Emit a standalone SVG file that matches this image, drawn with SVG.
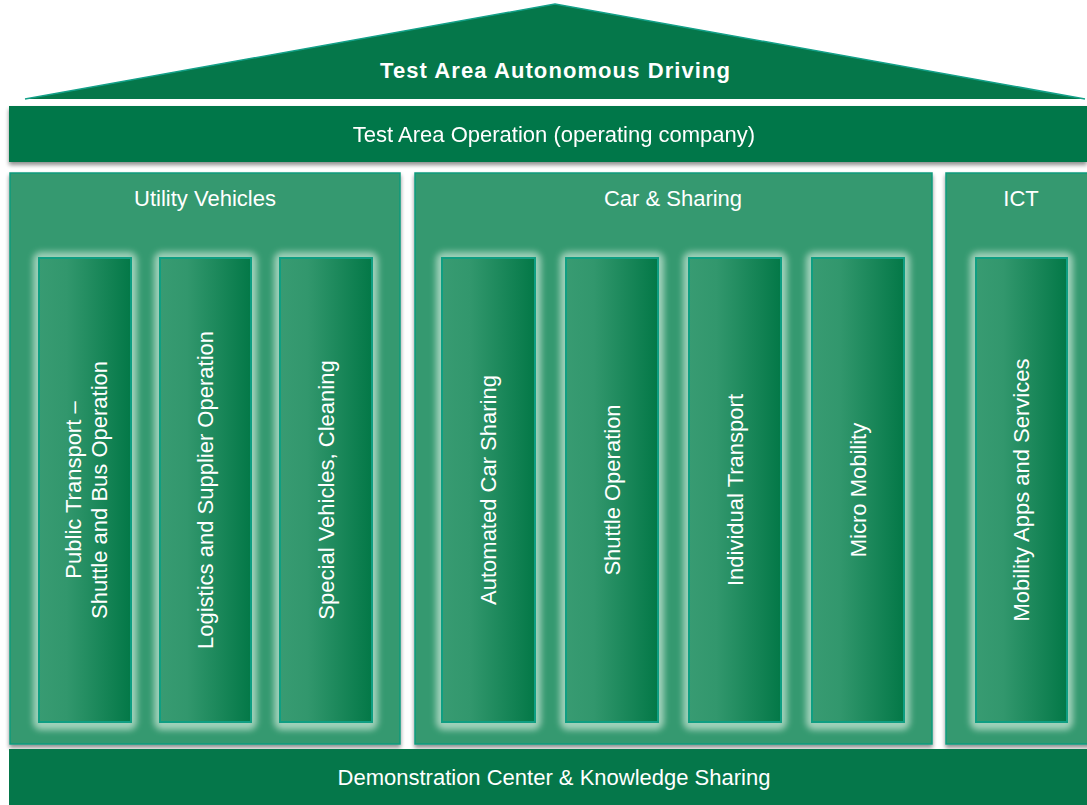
<svg xmlns="http://www.w3.org/2000/svg" width="1087" height="805" viewBox="0 0 1087 805">
<defs>
<linearGradient id="colg" x1="0" y1="0" x2="1" y2="0">
<stop offset="0" stop-color="#389b72"/>
<stop offset="0.3" stop-color="#32976d"/>
<stop offset="1" stop-color="#037847"/>
</linearGradient>
<filter id="sh" x="-5%" y="-20%" width="110%" height="140%">
<feGaussianBlur in="SourceAlpha" stdDeviation="2"/>
<feOffset dy="3"/>
<feComponentTransfer><feFuncA type="linear" slope="0.45"/></feComponentTransfer>
<feMerge><feMergeNode/><feMergeNode in="SourceGraphic"/></feMerge>
</filter>
<filter id="glow" x="-30%" y="-10%" width="160%" height="120%">
<feGaussianBlur stdDeviation="3"/>
</filter>
<style>
.bar{fill:#05774a}
.pillar{fill:#35996f;stroke:#0d9a7e;stroke-width:1.5}
.col{fill:url(#colg);stroke:#0f9e82;stroke-width:2}
.halo{fill:#b4dcc8;opacity:0.85}
.t{font-family:"Liberation Sans",Arial,sans-serif;fill:#ffffff;font-size:22px;text-anchor:middle}
.b{font-weight:bold}
</style>
</defs>

<g id="roof">
<polygon points="25,99 555,4 1085,99" fill="#05774a"/>
<polyline points="25,99 555,4 1085,99" fill="none" stroke="#13a088" stroke-width="1.5"/>
<text class="t b" x="555" y="78" font-size="26" textLength="350" lengthAdjust="spacing">Test Area Autonomous Driving</text>
</g>

<g id="operation" filter="url(#sh)">
<rect class="bar" x="9" y="106" width="1078" height="56"/>
<text class="t" x="554" y="142">Test Area Operation (operating company)</text>
</g>

<g id="utility">
<rect class="pillar" x="10" y="173" width="390" height="571" filter="url(#sh)"/>
<text class="t" x="205" y="206">Utility Vehicles</text>
</g>
<g id="car">
<rect class="pillar" x="415" y="173" width="517" height="571" filter="url(#sh)"/>
<text class="t" x="673" y="206">Car &amp; Sharing</text>
</g>
<g id="ict">
<rect class="pillar" x="946" y="173" width="145" height="571" filter="url(#sh)"/>
<text class="t" x="1021" y="206">ICT</text>
</g>

<g id="col-public">
<rect class="halo" x="33" y="252" width="104" height="478" rx="8" filter="url(#glow)"/>
<rect class="col" x="39" y="258" width="92" height="464"/>
<text class="t" transform="translate(85,490) rotate(-90)"><tspan x="0" y="-4">Public Transport –</tspan><tspan x="0" y="22">Shuttle and Bus Operation</tspan></text>
</g>
<g id="col-logistics">
<rect class="halo" x="154" y="252" width="103" height="478" rx="8" filter="url(#glow)"/>
<rect class="col" x="160" y="258" width="91" height="464"/>
<text class="t" transform="translate(205.5,490) rotate(-90)" y="7.5">Logistics and Supplier Operation</text>
</g>
<g id="col-special">
<rect class="halo" x="274" y="252" width="104" height="478" rx="8" filter="url(#glow)"/>
<rect class="col" x="280" y="258" width="92" height="464"/>
<text class="t" transform="translate(326,490) rotate(-90)" y="7.5">Special Vehicles, Cleaning</text>
</g>

<g id="col-automated">
<rect class="halo" x="436" y="252" width="105" height="478" rx="8" filter="url(#glow)"/>
<rect class="col" x="442" y="258" width="93" height="464"/>
<text class="t" transform="translate(488.5,490) rotate(-90)" y="7.5">Automated Car Sharing</text>
</g>
<g id="col-shuttle">
<rect class="halo" x="560" y="252" width="104" height="478" rx="8" filter="url(#glow)"/>
<rect class="col" x="566" y="258" width="92" height="464"/>
<text class="t" transform="translate(612,490) rotate(-90)" y="7.5">Shuttle Operation</text>
</g>
<g id="col-individual">
<rect class="halo" x="683" y="252" width="104" height="478" rx="8" filter="url(#glow)"/>
<rect class="col" x="689" y="258" width="92" height="464"/>
<text class="t" transform="translate(735,490) rotate(-90)" y="7.5">Individual Transport</text>
</g>
<g id="col-micro">
<rect class="halo" x="806" y="252" width="104" height="478" rx="8" filter="url(#glow)"/>
<rect class="col" x="812" y="258" width="92" height="464"/>
<text class="t" transform="translate(858,490) rotate(-90)" y="7.5">Micro Mobility</text>
</g>

<g id="col-apps">
<rect class="halo" x="970" y="252" width="103" height="478" rx="8" filter="url(#glow)"/>
<rect class="col" x="976" y="258" width="91" height="464"/>
<text class="t" transform="translate(1021.5,490) rotate(-90)" y="7.5">Mobility Apps and Services</text>
</g>

<g id="demo">
<rect class="bar" x="9" y="749" width="1078" height="56"/>
<text class="t" x="554" y="785">Demonstration Center &amp; Knowledge Sharing</text>
</g>

<g id="connectors"></g>
</svg>
